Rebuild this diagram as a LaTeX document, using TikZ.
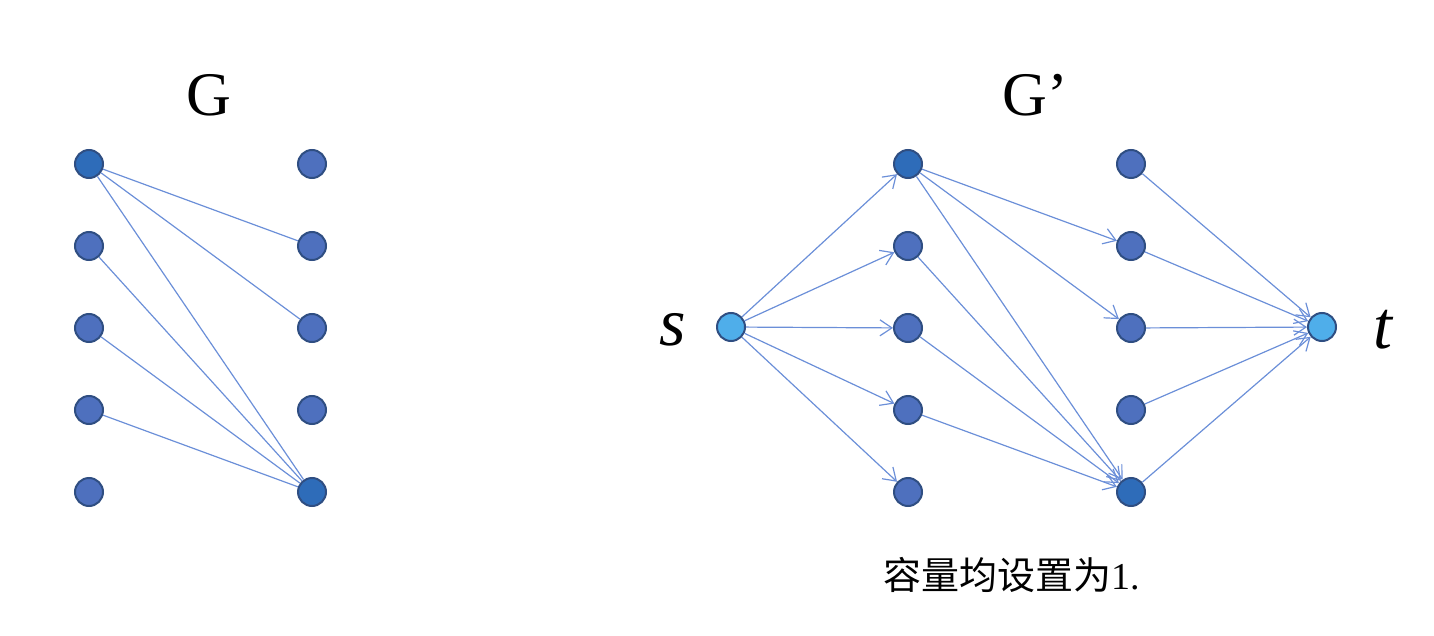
\documentclass[tikz,border=0pt]{standalone}
\usepackage{fontspec}
\setmainfont{Liberation Serif}
\newfontfamily\cjk{Noto Sans CJK SC}
\usetikzlibrary{arrows.meta}
\definecolor{nodemid}{HTML}{4E70BE}
\definecolor{nodedark}{HTML}{2E6CB9}
\definecolor{nodelight}{HTML}{4FAEEA}
\definecolor{nodeedge}{HTML}{2F4E82}
\definecolor{edgecol}{HTML}{6B8FD8}
\begin{document}
\begin{tikzpicture}[x=0.5pt,y=-0.5pt,
  vtx/.style={circle,draw=nodeedge,line width=1pt,fill=nodemid,minimum size=14pt,inner sep=0pt},
  vdark/.style={vtx,fill=nodedark},
  vlight/.style={vtx,fill=nodelight},
  edg/.style={draw=edgecol,line width=0.6pt},
  arr/.style={edg,-{Straight Barb[length=6pt,width=8pt,line width=0.6pt]}},
  ttl/.style={font=\fontsize{31}{36}\selectfont}]
\useasboundingbox (0,0) rectangle (1434,636);
% Graph G
\node[ttl] (G) at (209,95) {G};
\node[vdark] (a1) at (89,164) {};
\node[vtx] (a2) at (89,246) {};
\node[vtx] (a3) at (89,328) {};
\node[vtx] (a4) at (89,410) {};
\node[vtx] (a5) at (89,492) {};
\node[vtx] (b1) at (312,164) {};
\node[vtx] (b2) at (312,246) {};
\node[vtx] (b3) at (312,328) {};
\node[vtx] (b4) at (312,410) {};
\node[vdark] (b5) at (312,492) {};
\draw[edg] (a1) -- (b2);
\draw[edg] (a1) -- (b3);
\draw[edg] (a1) -- (b5);
\draw[edg] (a2) -- (b5);
\draw[edg] (a3) -- (b5);
\draw[edg] (a4) -- (b5);
% Graph G'
\node[ttl] (Gp) at (1035,95) {G’};
\node[vlight] (s) at (731,327) {};
\node[vlight] (t) at (1322,327) {};
\node[font=\fontsize{34}{40}\selectfont\itshape] (sl) at (673,330) {s};
\node[font=\fontsize{34}{40}\selectfont\itshape] (tl) at (1383,330) {t};
\node[vdark] (c1) at (908,164) {};
\node[vtx] (c2) at (908,246) {};
\node[vtx] (c3) at (908,328) {};
\node[vtx] (c4) at (908,410) {};
\node[vtx] (c5) at (908,492) {};
\node[vtx] (d1) at (1131,164) {};
\node[vtx] (d2) at (1131,246) {};
\node[vtx] (d3) at (1131,328) {};
\node[vtx] (d4) at (1131,410) {};
\node[vdark] (d5) at (1131,492) {};
\foreach \i in {1,...,5} {
  \draw[arr] (s) -- (c\i);
  \draw[arr] (d\i) -- (t);
}
\draw[arr] (c1) -- (d2);
\draw[arr] (c1) -- (d3);
\draw[arr] (c1) -- (d5);
\draw[arr] (c2) -- (d5);
\draw[arr] (c3) -- (d5);
\draw[arr] (c4) -- (d5);
\node[font=\fontsize{19}{23}\selectfont] (cap) at (1012,575) {{\cjk 容量均设置为}1.};
\end{tikzpicture}
\end{document}
